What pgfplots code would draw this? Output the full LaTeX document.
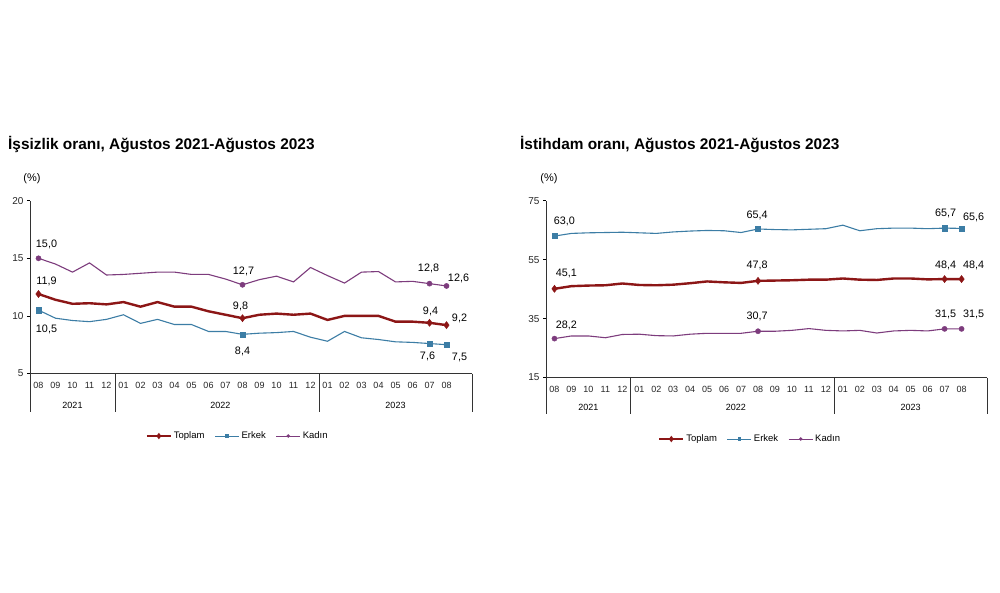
\documentclass[border=0pt]{standalone}
\usepackage{fontspec}
\setmainfont{Liberation Sans}
\usepackage{pgfplots}
\pgfplotsset{compat=1.18}
\definecolor{ctop}{RGB}{140,22,22}
\definecolor{cerk}{RGB}{60,125,165}
\definecolor{ckad}{RGB}{125,60,125}
\pgfplotsset{
 panel/.style={scale only axis, clip=false,
  axis x line=bottom, axis y line=left,
  axis line style={-, line width=0.7pt, black!80},
  xmin=-0.5, xmax=25.5, xtick={0,...,24},
  xticklabels={08,09,10,11,12,01,02,03,04,05,06,07,08,09,10,11,12,01,02,03,04,05,06,07,08},
  xtick style={draw=none}, ytick style={line width=0.6pt, black},
  tick align=outside, major tick length=3pt,
  xticklabel style={font=\fontsize{9}{10}\selectfont, text=black!85, yshift=-2pt},
  yticklabel style={font=\fontsize{10}{11}\selectfont, text=black!85},
  /pgf/number format/assume math mode=true,
  legend style={draw=none, fill=none, font=\fontsize{9.5}{10}\selectfont,
   legend columns=3, /tikz/every even column/.style={column sep=8pt}, anchor=center},
  legend image code/.code={\draw[mark repeat=2,mark phase=2,##1] plot coordinates {(0pt,0pt) (12pt,0pt) (24pt,0pt)};},
 },
 lab/.style={nodes near coords, point meta=explicit symbolic,
  visualization depends on={\thisrow{dx}\as\dx},
  visualization depends on={\thisrow{dy}\as\dy},
  nodes near coords style={anchor=center, xshift=\dx, yshift=\dy, font=\fontsize{10.8}{12}\selectfont, text=black}},
}
\begin{document}
\begin{tikzpicture}
\path[use as bounding box, fill=white] (0,0) rectangle (1000pt,-593pt);
\node[anchor=west, inner sep=0pt, font=\fontsize{15.4}{17}\selectfont\bfseries] at (8pt,-145pt) {İşsizlik oranı, Ağustos 2021-Ağustos 2023};
\node[anchor=west, inner sep=0pt, font=\fontsize{15.4}{17}\selectfont\bfseries] at (520pt,-145pt) {İstihdam oranı, Ağustos 2021-Ağustos 2023};
\node[font=\fontsize{11}{12}\selectfont] at (32pt,-179pt) {(\%)};
\node[font=\fontsize{11}{12}\selectfont] at (549pt,-179pt) {(\%)};

\begin{axis}[panel, at={(30pt,-373.5pt)}, anchor=south west, width=442pt, height=172.8pt,
  ymin=5, ymax=20, ytick={5,10,15,20}, legend style={at={(0.47,-0.362)}}]
\addplot[ckad, line width=1.1pt, forget plot] coordinates {(0,15.0)(1,14.5)(2,13.8)(3,14.6)(4,13.55)(5,13.6)(6,13.7)(7,13.8)(8,13.8)(9,13.6)(10,13.6)(11,13.2)(12,12.7)(13,13.15)(14,13.45)(15,12.95)(16,14.2)(17,13.5)(18,12.85)(19,13.8)(20,13.85)(21,12.95)(22,13.0)(23,12.8)(24,12.6)};
\addplot[cerk, line width=1.1pt, forget plot] coordinates {(0,10.5)(1,9.8)(2,9.6)(3,9.5)(4,9.7)(5,10.1)(6,9.35)(7,9.7)(8,9.25)(9,9.25)(10,8.65)(11,8.65)(12,8.4)(13,8.5)(14,8.55)(15,8.65)(16,8.15)(17,7.8)(18,8.65)(19,8.1)(20,7.95)(21,7.75)(22,7.7)(23,7.6)(24,7.5)};
\addplot[ctop, line width=2.4pt, forget plot] coordinates {(0,11.9)(1,11.4)(2,11.05)(3,11.1)(4,11.0)(5,11.2)(6,10.8)(7,11.2)(8,10.8)(9,10.8)(10,10.4)(11,10.1)(12,9.8)(13,10.1)(14,10.2)(15,10.1)(16,10.2)(17,9.65)(18,10.0)(19,10.0)(20,10.0)(21,9.5)(22,9.5)(23,9.4)(24,9.2)};
\addplot[only marks, mark=*, mark size=2.6pt, ckad, lab, forget plot] table[meta=lab] {
x y lab dx dy
0 15.0 15,0 8 14
12 12.7 12,7 1 13
23 12.8 12,8 -1 15
24 12.6 12,6 12 8
};
\addplot[only marks, mark=square*, mark size=2.6pt, cerk, lab, forget plot] table[meta=lab] {
x y lab dx dy
0 10.5 10,5 8 -19
12 8.4 8,4 0 -17
23 7.6 7,6 -2 -13
24 7.5 7,5 13 -13
};
\addplot[only marks, mark=diamond*, mark size=3.6pt, ctop, lab, forget plot] table[meta=lab] {
x y lab dx dy
0 11.9 11,9 8 13
12 9.8 9,8 -2 12
23 9.4 9,4 1 11
24 9.2 9,2 13 7
};
\draw[line width=0.7pt, black!80] (axis cs:-0.5,5) -- ++(0pt,-38pt);
\draw[line width=0.7pt, black!80] (axis cs:4.5,5) -- ++(0pt,-38pt);
\draw[line width=0.7pt, black!80] (axis cs:16.5,5) -- ++(0pt,-38pt);
\draw[line width=0.7pt, black!80] (axis cs:25.5,5) -- ++(0pt,-38pt);
\node[font=\fontsize{9}{10}\selectfont, yshift=-31.5pt] at (axis cs:2,5) {2021};
\node[font=\fontsize{9}{10}\selectfont, yshift=-31.5pt] at (axis cs:10.7,5) {2022};
\node[font=\fontsize{9}{10}\selectfont, yshift=-31.5pt] at (axis cs:21,5) {2023};
\addlegendimage{ctop, line width=2pt, mark=diamond*, mark size=1.6pt}
\addlegendentry{Toplam}
\addlegendimage{cerk, line width=1pt, mark=square*, mark size=1.2pt}
\addlegendentry{Erkek}
\addlegendimage{ckad, line width=1pt, mark=*, mark size=1.2pt}
\addlegendentry{Kadın}
\end{axis}

\begin{axis}[panel, at={(546pt,-377.5pt)}, anchor=south west, width=441pt, height=176.8pt,
  ymin=15, ymax=75, ytick={15,35,55,75}, legend style={at={(0.463,-0.348)}}]
\addplot[ckad, line width=1.1pt, forget plot] coordinates {(0,28.2)(1,29.1)(2,29.1)(3,28.5)(4,29.6)(5,29.7)(6,29.2)(7,29.1)(8,29.7)(9,30.0)(10,30.0)(11,30.0)(12,30.7)(13,30.7)(14,31.0)(15,31.6)(16,31.0)(17,30.8)(18,31.0)(19,30.1)(20,30.8)(21,31.0)(22,30.8)(23,31.5)(24,31.5)};
\addplot[cerk, line width=1.1pt, forget plot] coordinates {(0,63.0)(1,63.9)(2,64.1)(3,64.2)(4,64.3)(5,64.1)(6,63.9)(7,64.4)(8,64.7)(9,64.9)(10,64.8)(11,64.2)(12,65.4)(13,65.2)(14,65.1)(15,65.3)(16,65.5)(17,66.7)(18,64.8)(19,65.5)(20,65.7)(21,65.7)(22,65.5)(23,65.7)(24,65.6)};
\addplot[ctop, line width=2.4pt, forget plot] coordinates {(0,45.1)(1,46.0)(2,46.2)(3,46.3)(4,46.9)(5,46.4)(6,46.3)(7,46.5)(8,47.0)(9,47.6)(10,47.3)(11,47.1)(12,47.8)(13,47.9)(14,48.0)(15,48.2)(16,48.2)(17,48.6)(18,48.2)(19,48.1)(20,48.6)(21,48.6)(22,48.3)(23,48.4)(24,48.4)};
\addplot[only marks, mark=*, mark size=2.6pt, ckad, lab, forget plot] table[meta=lab] {
x y lab dx dy
0 28.2 28,2 12 13
12 30.7 30,7 -1 15
23 31.5 31,5 1 14
24 31.5 31,5 12 14
};
\addplot[only marks, mark=square*, mark size=2.6pt, cerk, lab, forget plot] table[meta=lab] {
x y lab dx dy
0 63.0 63,0 10 15
12 65.4 65,4 -1 14
23 65.7 65,7 1 15
24 65.6 65,6 12 11
};
\addplot[only marks, mark=diamond*, mark size=3.6pt, ctop, lab, forget plot] table[meta=lab] {
x y lab dx dy
0 45.1 45,1 12 15
12 47.8 47,8 -1 15
23 48.4 48,4 1 14
24 48.4 48,4 12 14
};
\draw[line width=0.7pt, black!80] (axis cs:-0.5,15) -- ++(0pt,-36.5pt);
\draw[line width=0.7pt, black!80] (axis cs:4.5,15) -- ++(0pt,-36.5pt);
\draw[line width=0.7pt, black!80] (axis cs:16.5,15) -- ++(0pt,-36.5pt);
\draw[line width=0.7pt, black!80] (axis cs:25.5,15) -- ++(0pt,-36.5pt);
\node[font=\fontsize{9}{10}\selectfont, yshift=-30pt] at (axis cs:2,15) {2021};
\node[font=\fontsize{9}{10}\selectfont, yshift=-30pt] at (axis cs:10.7,15) {2022};
\node[font=\fontsize{9}{10}\selectfont, yshift=-30pt] at (axis cs:21,15) {2023};
\addlegendimage{ctop, line width=2pt, mark=diamond*, mark size=1.6pt}
\addlegendentry{Toplam}
\addlegendimage{cerk, line width=1pt, mark=square*, mark size=1.2pt}
\addlegendentry{Erkek}
\addlegendimage{ckad, line width=1pt, mark=*, mark size=1.2pt}
\addlegendentry{Kadın}
\end{axis}
\end{tikzpicture}
\end{document}
